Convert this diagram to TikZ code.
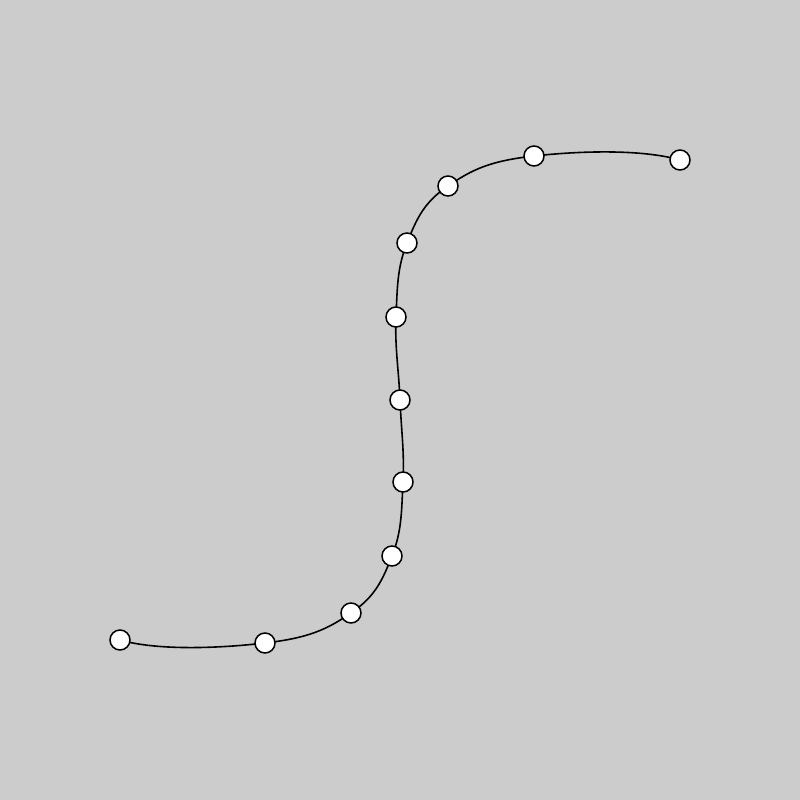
\documentclass[tikz,border=0pt]{standalone}
\usepackage{tikz}
\usepackage{xcolor}
\usetikzlibrary{calc}
\definecolor{canvas}{RGB}{204,204,204}

\begin{document}
\begin{tikzpicture}[
  x=1pt, y=-1pt,
  knot/.style={draw, circle, fill=white, line width=1.5pt, minimum size=20pt, inner sep=0pt},
  curve/.style={line width=1.6pt}
]
\fill[canvas] (0,0) rectangle (800,800);
\useasboundingbox (0,0) rectangle (800,800);

% p0 and p12 only steer the ends
\coordinate (p0) at (60,585);
\coordinate (p1) at (120,640);
\coordinate (p2) at (265,643);
\coordinate (p3) at (351,613);
\coordinate (p4) at (392,556);
\coordinate (p5) at (403,482);
\coordinate (p6) at (400,400);
\coordinate (p7) at (396,317);
\coordinate (p8) at (407,243);
\coordinate (p9) at (448,186);
\coordinate (p10) at (534,156);
\coordinate (p11) at (680,160);
\coordinate (p12) at (740,215);

\def\t{0.19}
\foreach \h/\i/\j/\k in {0/1/2/3,1/2/3/4,2/3/4/5,3/4/5/6,4/5/6/7,5/6/7/8,6/7/8/9,7/8/9/10,8/9/10/11,9/10/11/12}
  \draw[curve] (p\i) .. controls ($(p\i)+\t*(p\j)-\t*(p\h)$) and ($(p\j)-\t*(p\k)+\t*(p\i)$) .. (p\j);

\foreach \i in {1,...,11}
  \node[knot] (k\i) at (p\i) {};
\end{tikzpicture}
\end{document}
